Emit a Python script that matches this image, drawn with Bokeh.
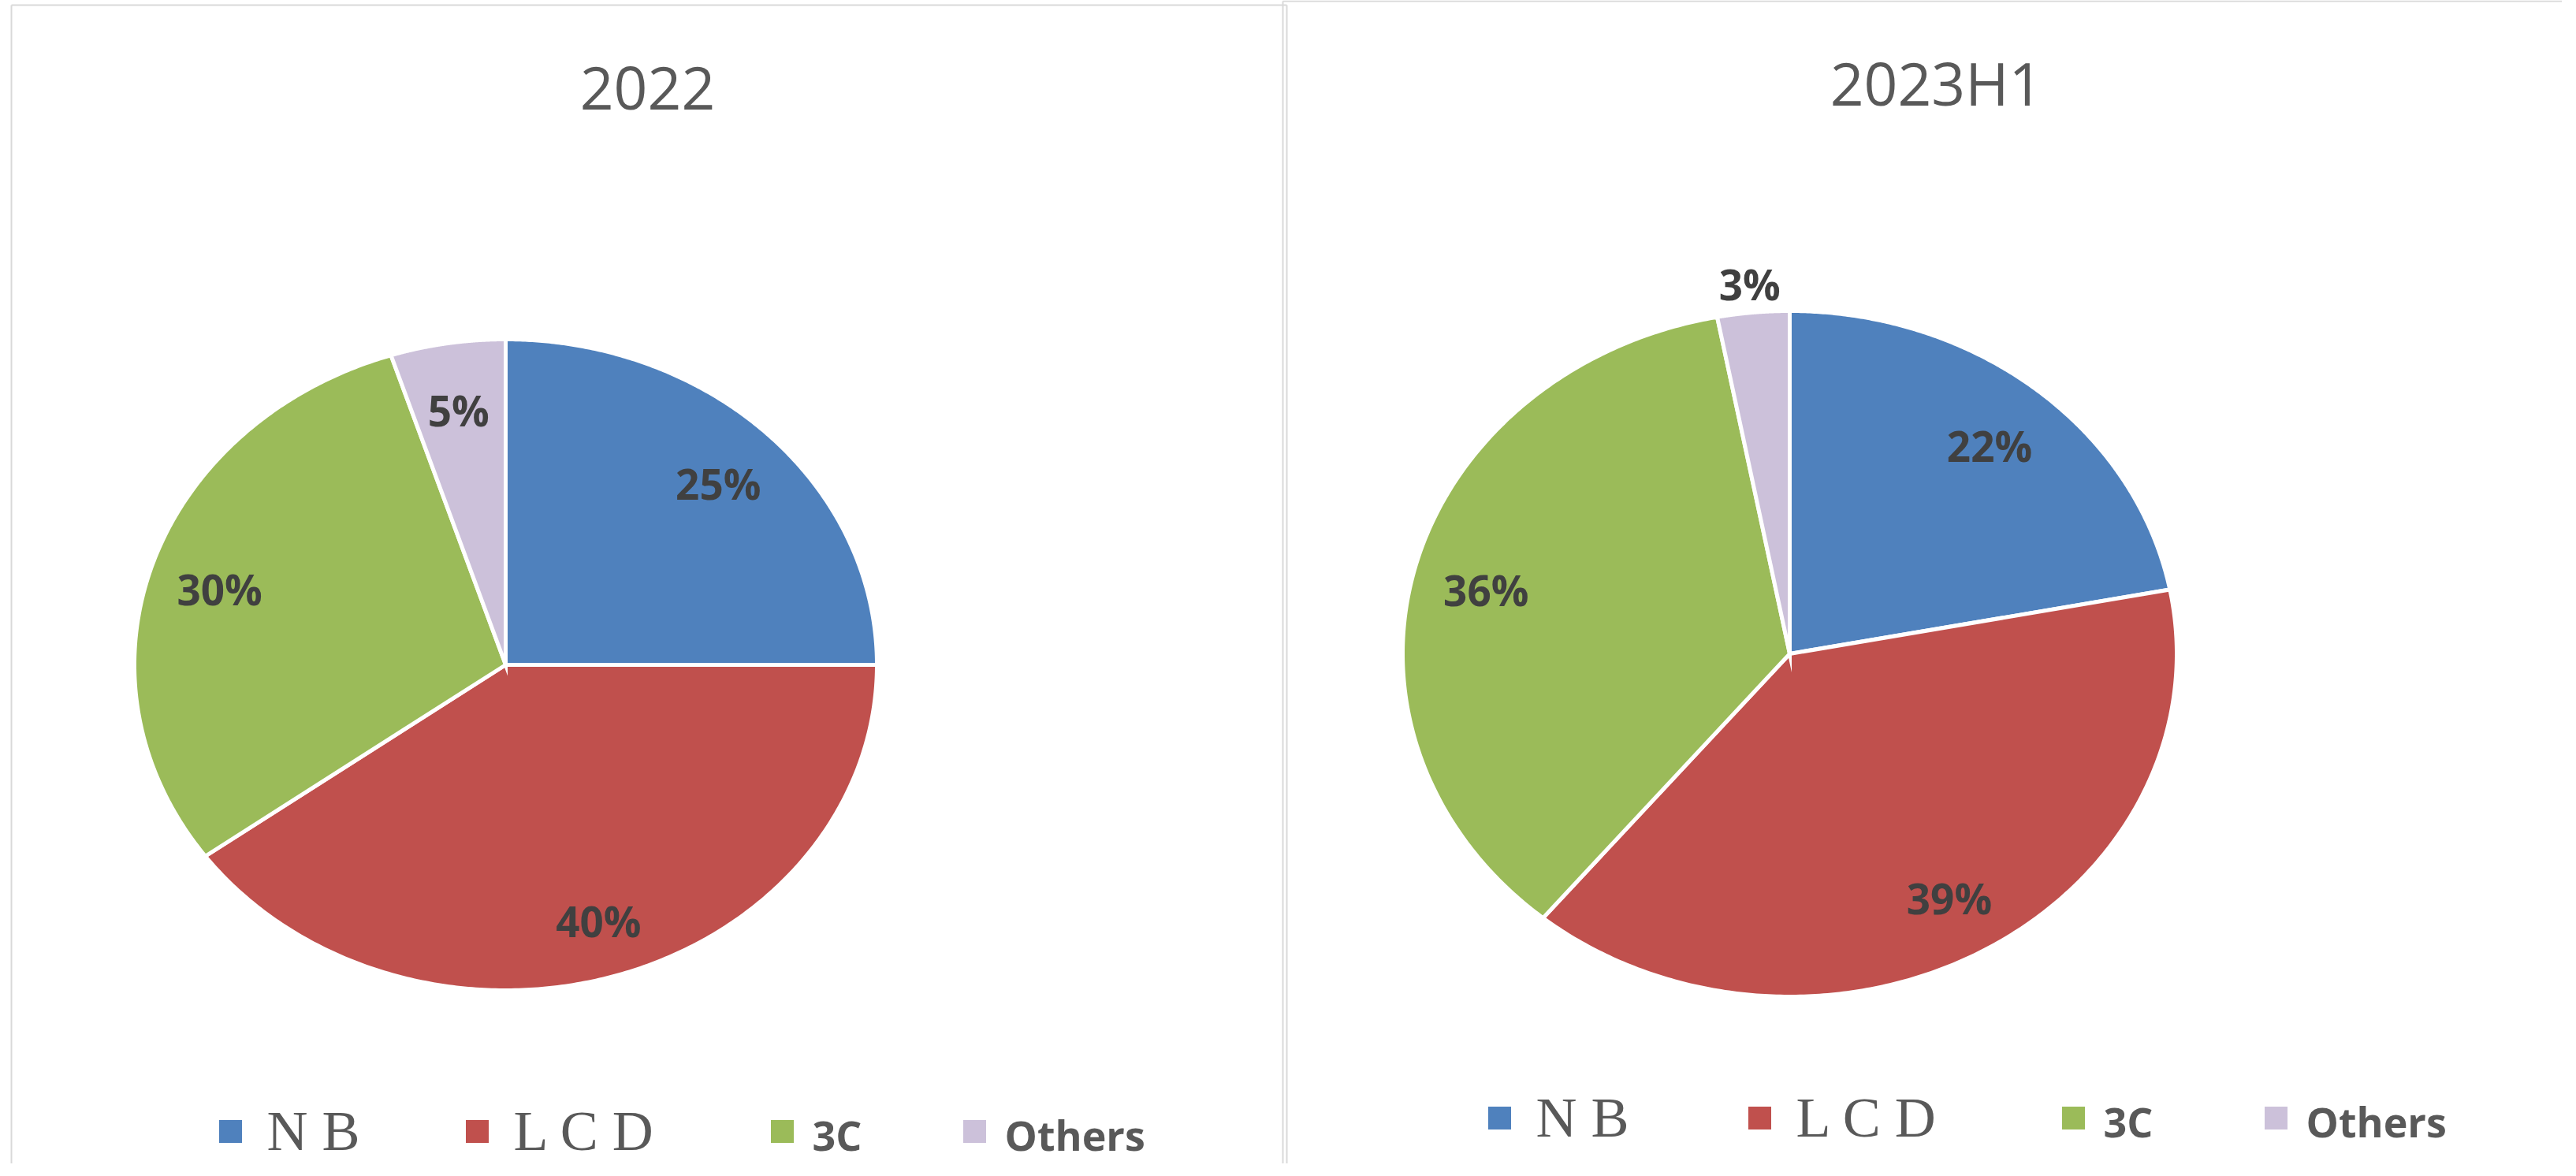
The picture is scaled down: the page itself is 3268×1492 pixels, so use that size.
import numpy as np
from bokeh.plotting import figure
from bokeh.models import Range1d, ColumnDataSource
from bokeh.core.properties import value
from bokeh.embed import file_html
from bokeh.resources import INLINE

# ---- data ----
categories = ["NB", "LCD", "3C", "Others"]
legend_labels = ["N B", "L C D", "3C", "Others"]
legend_serif = [True, True, False, False]
titles = ["2022", "2023H1"]
share_2022 = [25, 40, 30, 5]
share_2023h1 = [22, 39, 36, 3]
colors = ["#4F81BD", "#C0504D", "#9BBB59", "#CCC1DA"]

# ---- layout (pixels of the page) ----
W, H = 3250, 1476
X0, Y0 = 8, 8
panels = [
    dict(values=share_2022, title=titles[0], cx=649, cy=851, rx=471, ry=413,
         tx=829, ty=138, lx=300, ly=1443, ldx=[0, 313, 700, 944]),
    dict(values=share_2023h1, title=titles[1], cx=2278, cy=837, rx=491, ry=435,
         tx=2464, ty=131, lx=1910, ly=1426, ldx=[0, 330, 728, 985]),
]

p = figure(width=W, height=H, x_range=Range1d(X0, X0 + W), y_range=Range1d(Y0 + H, Y0),
           x_axis_type=None, y_axis_type=None, output_backend="svg",
           toolbar_location=None, min_border=0)
p.grid.visible = False
p.outline_line_color = None
p.background_fill_color = "white"

# panel borders
border = "#D9D9D9"
p.multi_line(xs=[[22, 22], [22, 1640], [1640, 1640], [1635, 3258], [1635, 1635]],
             ys=[[14, 1484], [14, 14], [14, 1484], [9, 9], [9, 1484]],
             line_color=border, line_width=2)

for pan in panels:
    vals = np.array(pan["values"], dtype=float)
    frac = vals / vals.sum()
    ends = np.cumsum(frac) * 2 * np.pi
    starts = ends - frac * 2 * np.pi
    xs, ys = [], []
    for a0, a1 in zip(starts, ends):
        t = np.linspace(a0, a1, 240)
        xs.append([pan["cx"]] + list(pan["cx"] + pan["rx"] * np.sin(t)) + [pan["cx"]])
        ys.append([pan["cy"]] + list(pan["cy"] - pan["ry"] * np.cos(t)) + [pan["cy"]])
    p.patches(xs=xs, ys=ys, fill_color=colors, line_color="white", line_width=5,
              line_join="miter")

    mid = (starts + ends) / 2
    rr = np.where(frac >= 0.04, 0.81, 1.10)
    lab = ColumnDataSource(dict(
        x=pan["cx"] + pan["rx"] * rr * np.sin(mid),
        y=pan["cy"] - pan["ry"] * rr * np.cos(mid),
        t=[f"{int(v)}%" for v in vals]))
    p.text(x="x", y="y", text="t", source=lab, text_font=value("Open Sans"),
           text_font_style="bold", text_font_size="53px", text_color="#404040",
           text_align="center", text_baseline="alphabetic", y_offset=7)

    # title
    p.text(x=[pan["tx"]], y=[pan["ty"]], text=[pan["title"]], text_font=value("Open Sans"),
           text_font_size="75px", text_color="#595959", text_align="center",
           text_baseline="alphabetic", y_offset=-19)

    # legend
    sq_x = [pan["lx"] + d for d in pan["ldx"]]
    p.rect(x=sq_x, y=[pan["ly"]] * 4, width=29, height=29, fill_color=colors,
           line_color=None)
    for i, lbl in enumerate(legend_labels):
        if legend_serif[i]:
            p.text(x=[sq_x[i] + 46], y=[pan["ly"] + 16], text=[lbl],
                   text_font=value("Liberation Serif"), text_font_size="72px",
                   text_color="#595959", text_align="left", text_baseline="alphabetic",
                   y_offset=-17)
        else:
            p.text(x=[sq_x[i] + 38], y=[pan["ly"] + 16], text=[lbl],
                   text_font=value("Open Sans"), text_font_style="bold",
                   text_font_size="52px", text_color="#595959", text_align="left",
                   text_baseline="alphabetic", y_offset=-12)

open("out.html", "w").write(file_html(p, INLINE))
